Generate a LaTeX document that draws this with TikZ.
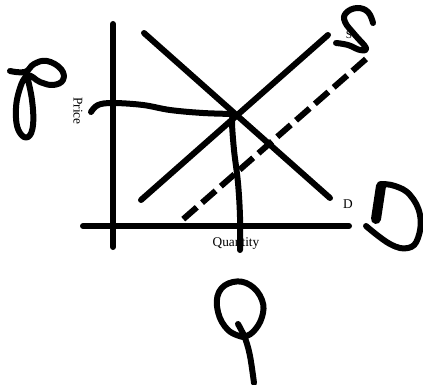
\documentclass[tikz,border=0pt]{standalone}
\usepackage{fontspec}
\setmainfont{Liberation Serif}
\usetikzlibrary{positioning}

\begin{document}
\begin{tikzpicture}[x=0.75pt, y=-0.75pt,
    stroke/.style={line width=4.5pt, line cap=round, line join=round},
    shifted/.style={line width=4.5pt, dash pattern=on 13.5pt off 5.25pt},
    ink/.style={line width=4.5pt, line cap=round, line join=round},
    lbl/.style={font=\fontsize{10}{12}\selectfont, inner sep=0pt},
]
    \useasboundingbox (0,0) rectangle (423,384);

    % labels (drawn first, the strokes go over them)
    \node[lbl, rotate=-90] (price) at (78,111) {Price};
    \node[lbl] (qty) at (236,244) {Quantity};
    \node[lbl, font=\fontsize{8.5}{10}\selectfont] (slbl) at (349,35) {S};
    \node[lbl] (dlbl) at (348,204) {D};

    % axes
    \coordinate (ytop) at (113,24);
    \coordinate (ybot) at (113,247);
    \coordinate (xleft) at (83,226);
    \coordinate (xright) at (349,226);
    \draw[stroke] (ytop) -- (ybot);
    \draw[stroke] (xleft) -- (xright);

    % demand, supply and shifted supply
    \coordinate (dtop) at (144,33);
    \coordinate (dbot) at (330,198);
    \coordinate (sbot) at (141,200);
    \coordinate (stop) at (328,35);
    \coordinate (s2top) at (366,59);
    \coordinate (s2bot) at (180,222);
    \draw[stroke] (dtop) -- (dbot);
    \draw[stroke] (sbot) -- (stop);
    \draw[shifted] (s2top) -- (s2bot);

    % equilibrium price and quantity
    \coordinate (eq) at (234,114);
    \draw[ink] plot[smooth, tension=0.6] coordinates {(91,112) (98,105) (113,103) (143,105) (170,110) (203,113) (234,114)};
    \draw[ink] plot[smooth, tension=0.6] coordinates {(233,114) (232,123) (234,150) (238,183) (240,217) (240,250)};

    % handwritten letters
    \draw[ink] plot[smooth, tension=0.7] coordinates {(10,71) (25,72) (34,64) (47,61) (61,69) (63,80) (53,85) (40,82) (27,76)
        (18,95) (16,118) (20,133) (28,137) (33,125) (32,100) (27,76)};
    \draw[ink] plot[smooth, tension=0.7] coordinates {(373,23) (368,12) (357,8) (346,13) (345,22) (355,35) (366,48) (360,50) (348,45) (336,43)};
    \draw[line width=7.5pt, line cap=round] (381,186) -- (376,219);
    \draw[ink] plot[smooth, tension=0.7] coordinates {(381,184) (395,186) (410,195) (420,215) (418,238) (408,248) (390,244) (366,226)};
    \draw[ink] plot[smooth, tension=0.7] coordinates {(243,337) (228,330) (218,312) (219,292) (233,282) (250,285) (262,300) (262,317) (253,332) (243,337)};
    \draw[ink] plot[smooth, tension=0.6] coordinates {(238,324) (245,338) (250,356) (254,383)};
\end{tikzpicture}
\end{document}
